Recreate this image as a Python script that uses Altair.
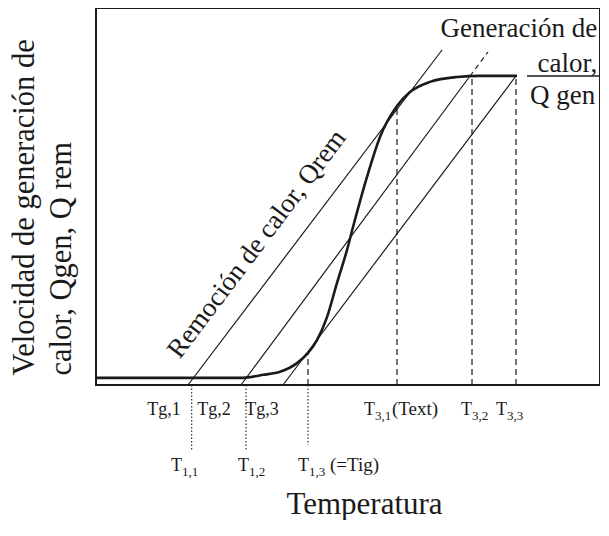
import altair as alt
import pandas as pd

FONT = "Liberation Serif"
INK = "#1a1a1a"

# Heat generation curve, Qgen (S-shaped)
gen_T = [0, 28.71, 32.62, 35.94, 39.26, 41.41, 43.16, 45.12, 47.07, 49.02, 50.20,
         52.93, 55.47, 58.79, 61.33, 65.23, 70.51, 75.00, 82.23]
gen_Q = [1.9, 1.9, 2.7, 3.5, 5.8, 8.5, 11.9, 18.0, 27.1, 35.8, 41.9,
         55.2, 65.8, 74.0, 77.7, 80.4, 81.7, 82.0, 82.0]

# Heat removal lines, Qrem (three parallel lines)
rem_T0 = [17.97, 28.32, 36.52]
rem_Q0 = [0, 0, 0]
rem_T1 = [67.58, 73.05, 82.03]
rem_Q1 = [88.86, 81.96, 81.96]

# dashed continuation of the middle line
ext_T0 = [73.05]
ext_Q0 = [81.96]
ext_T1 = [76.56]
ext_Q1 = [88.33]

# dashed verticals at the operating points
dash_T = [41.41, 58.79, 73.44, 82.03]
dash_Q = [8.49, 74.0, 81.96, 81.96]

# dotted drop lines below the axis
dot_T = [18.69, 29.30, 41.41]
dot_Q = [-17.2, -17.2, -15.9]

# leader line under "calor,"
lead_T0 = [84.18]
lead_T1 = [98.4]
lead_Q = [81.96]

# labels
plain_labels = ["Tg,1", "Tg,2", "Tg,3"]
plain_T = [13.28, 23.05, 32.42]
plain_Q = [-7.96, -7.96, -7.96]

sub_main = ["T", "T", "T", "T", "T", "T"]
sub_text = ["3,1", "3,2", "3,3", "1,1", "1,2", "1,3"]
sub_T = [54.49, 73.44, 80.27, 16.80, 29.88, 41.60]
sub_Q = [-7.96, -7.96, -7.96, -22.81, -22.81, -22.81]

suffix_text = ["(Text)", "(=Tig)"]
suffix_T = [57.81, 45.70]
suffix_Q = [-7.96, -22.81]

right_text = ["Generación de", "calor,", "Q gen"]
right_T = [97.9, 97.9, 97.5]
right_Q = [92.3, 83.0, 74.5]

rot_text = ["Remoción de calor, Qrem"]
rot_T = [31.45]
rot_Q = [37.4]

gen_df = pd.DataFrame({"T": gen_T, "Q": gen_Q})
rem_df = pd.DataFrame({"T": rem_T0, "Q": rem_Q0, "T1": rem_T1, "Q1": rem_Q1})
ext_df = pd.DataFrame({"T": ext_T0, "Q": ext_Q0, "T1": ext_T1, "Q1": ext_Q1})
dash_df = pd.DataFrame({"T": dash_T, "Q": [0] * len(dash_T), "Q1": dash_Q})
dot_df = pd.DataFrame({"T": dot_T, "Q": [0] * len(dot_T), "Q1": dot_Q})
lead_df = pd.DataFrame({"T": lead_T0, "T1": lead_T1, "Q": lead_Q})
plain_df = pd.DataFrame({"label": plain_labels, "T": plain_T, "Q": plain_Q})
main_df = pd.DataFrame({"label": sub_main, "T": sub_T, "Q": sub_Q})
sub_df = pd.DataFrame({"label": sub_text, "T": sub_T, "Q": sub_Q})
suf_df = pd.DataFrame({"label": suffix_text, "T": suffix_T, "Q": suffix_Q})
right_df = pd.DataFrame({"label": right_text, "T": right_T, "Q": right_Q})
rot_df = pd.DataFrame({"label": rot_text, "T": rot_T, "Q": rot_Q})

xs = alt.Scale(domain=[0, 98.4375], nice=False, zero=False)
ys = alt.Scale(domain=[0, 100], nice=False, zero=False)

X_TITLE = "Temperatura"
Y_TITLE = ["Velocidad de generación de", "calor, Qgen, Q rem"]

X = alt.X("T:Q", scale=xs, title=X_TITLE)
Y = alt.Y("Q:Q", scale=ys, title=Y_TITLE)

curve = alt.Chart(gen_df).mark_line(color=INK, strokeWidth=2.6, interpolate="monotone").encode(
    x=X, y=Y,
)

rem = alt.Chart(rem_df).mark_rule(color=INK, strokeWidth=1.2).encode(
    x=X, x2="T1:Q", y=Y, y2="Q1:Q",
)
ext = alt.Chart(ext_df).mark_rule(color=INK, strokeWidth=1.2, strokeDash=[5, 4]).encode(
    x=X, x2="T1:Q", y=Y, y2="Q1:Q",
)
dash = alt.Chart(dash_df).mark_rule(color=INK, strokeWidth=1.2, strokeDash=[6, 4]).encode(
    x=X, y=Y, y2="Q1:Q",
)
dot = alt.Chart(dot_df).mark_rule(color=INK, strokeWidth=1.1, strokeDash=[1.5, 2]).encode(
    x=X, y=Y, y2="Q1:Q",
)
lead = alt.Chart(lead_df).mark_rule(color=INK, strokeWidth=1.6).encode(
    x=X, x2="T1:Q", y=Y,
)


def txt(df, baseline="alphabetic", **kw):
    return alt.Chart(df).mark_text(font=FONT, color=INK, baseline=baseline, **kw).encode(
        x=X, y=Y, text="label:N")


plain = txt(plain_df, fontSize=18, align="center")
mains = txt(main_df, fontSize=18, align="right")
subs = txt(sub_df, fontSize=13, align="left", dy=5)
sufs = txt(suf_df, fontSize=19, align="left")
rights = txt(right_df, fontSize=27, align="right")
rot = txt(rot_df, baseline="middle", fontSize=27, align="center", angle=307)

chart = alt.layer(curve, rem, ext, dash, dot, lead, plain, mains, subs, sufs, rights, rot).properties(
    width=504, height=377,
    autosize=alt.AutoSizeParams(type="none"),
    padding={"left": 88, "top": 0, "right": 0, "bottom": 135},
).configure_view(
    stroke=INK, strokeWidth=2
).configure_axisX(
    domain=False, ticks=False, labels=False, grid=False,
    titleFont=FONT, titleFontSize=31, titleFontWeight="normal", titleColor=INK,
    titleX=268, titleY=128, titleBaseline="alphabetic", titleAlign="center",
).configure_axisY(
    domain=False, ticks=False, labels=False, grid=False,
    titleFont=FONT, titleFontSize=30.5, titleFontWeight="normal", titleColor=INK,
    titleAngle=270, titleAlign="left", titleBaseline="alphabetic",
    titleX=-63, titleY=367, titleLineHeight=37,
)

chart.save("out.html", embed_options={"renderer": "svg", "actions": False})
